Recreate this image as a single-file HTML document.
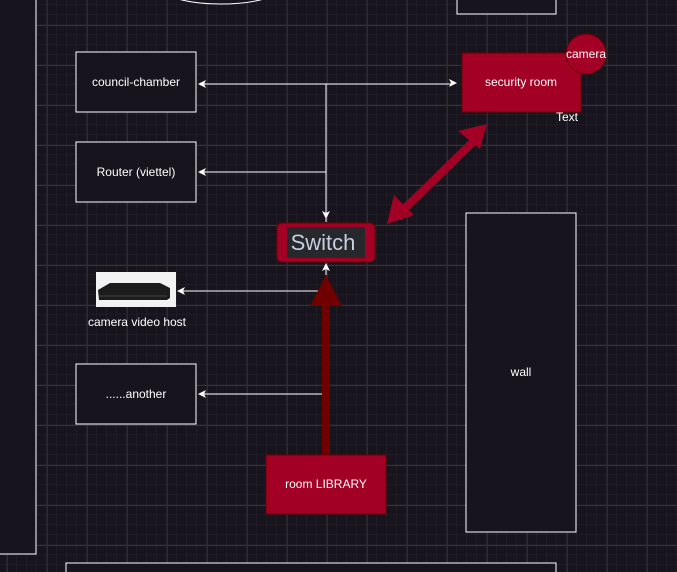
<!DOCTYPE html>
<html><head><style>html,body{margin:0;padding:0;background:#18141d;}svg{display:block;font-family:"Liberation Sans",Arial,sans-serif;}</style></head>
<body>
<svg width="677" height="572" viewBox="0 0 677 572" xmlns="http://www.w3.org/2000/svg">
<defs>
<pattern id="mi" width="10" height="10" patternUnits="userSpaceOnUse" x="6.7" y="5"><path d="M10 0V10M0 10H10" stroke="#26222b" stroke-width="1" fill="none"/></pattern>
<pattern id="ma" width="40" height="40" patternUnits="userSpaceOnUse" x="6.7" y="25"><path d="M0.5 0V40M0 0.5H40" stroke="#36323b" stroke-width="1" fill="none"/></pattern>
</defs>
<rect width="677" height="572" fill="#18141d"/>
<rect width="677" height="572" fill="url(#mi)"/>
<rect width="677" height="572" fill="url(#ma)"/>
<rect x="-10" y="-10" width="46" height="564" fill="#18141d" stroke="#fff"/>
<ellipse cx="221" cy="-14" rx="62" ry="18" fill="#18141d" stroke="#fff"/>
<rect x="457" y="-10" width="99" height="24" fill="#18141d" stroke="#fff"/>
<rect x="66" y="563" width="490" height="20" fill="#18141d" stroke="#fff"/>
<rect x="466" y="213" width="110" height="319" fill="#18141d" stroke="#fff"/>
<text x="521" y="376" fill="#fff" font-size="12" text-anchor="middle">wall</text>
<g stroke="#fff" stroke-width="1" fill="none">
<path d="M326 222V84H200"/><path d="M326 84H452"/>
<path d="M326 172H200"/><path d="M318 291H180"/><path d="M322 394H200"/><path d="M326 275V266"/>
</g>
<g fill="#fff">
<path d="M198 84l8-4-2 4 2 4z"/><path d="M457 83l-8-4 2 4-2 4z"/>
<path d="M198 172l8-4-2 4 2 4z"/><path d="M177 291l8-4-2 4 2 4z"/><path d="M198 394l8-4-2 4 2 4z"/>
<path d="M326 219l-4-8 4 2 4-2z"/><path d="M326 263l-4 8 4-2 4 2z"/>
</g>
<rect x="76" y="52" width="120" height="60" fill="#18141d" stroke="#fff"/>
<text x="136" y="86" fill="#fff" font-size="12" text-anchor="middle">council-chamber</text>
<rect x="76" y="142" width="120" height="60" fill="#18141d" stroke="#fff"/>
<text x="136" y="176" fill="#fff" font-size="12" text-anchor="middle">Router (viettel)</text>
<rect x="76" y="364" width="120" height="60" fill="#18141d" stroke="#fff"/>
<text x="136" y="398" fill="#fff" font-size="12" text-anchor="middle">......another</text>
<rect x="96" y="272" width="80" height="35" fill="#f2f2f2"/>
<path d="M98 290l12-7h50l10 5v10l-3 2H99z" fill="#1c1c1c"/><path d="M99 296h68" stroke="#444"/>
<text x="137" y="326" fill="#fff" font-size="12" text-anchor="middle">camera video host</text>
<rect x="462" y="53" width="119" height="59" fill="#a20025" stroke="#6f0000"/>
<text x="521" y="86" fill="#fff" font-size="12" text-anchor="middle">security room</text>
<circle cx="586" cy="54" r="20" fill="#a20025" stroke="#6f0000"/>
<text x="586" y="58" fill="#fff" font-size="12" text-anchor="middle">camera</text>
<text x="567" y="121" fill="#fff" font-size="12" text-anchor="middle">Text</text>
<path d="M400 213L475 140" stroke="#a20025" stroke-width="8"/>
<path d="M487 124L458 131L480 149z" fill="#a20025"/>
<path d="M387 224L394 195L414 215z" fill="#a20025"/>
<rect x="277" y="223" width="98" height="39" rx="5" fill="#a20025" stroke="#6f0000"/>
<rect x="287" y="227" width="78" height="31" fill="#26282c"/>
<text x="323" y="250" fill="#c4cfdf" font-size="22" text-anchor="middle">Switch</text>
<rect x="322" y="300" width="8" height="156" fill="#6f0000"/>
<path d="M326 275L310 306H342z" fill="#6f0000"/>
<rect x="266" y="455" width="120" height="59" fill="#a20025" stroke="#6f0000"/>
<text x="326" y="488" fill="#fff" font-size="12" text-anchor="middle">room LIBRARY</text>
</svg>
</body></html>
